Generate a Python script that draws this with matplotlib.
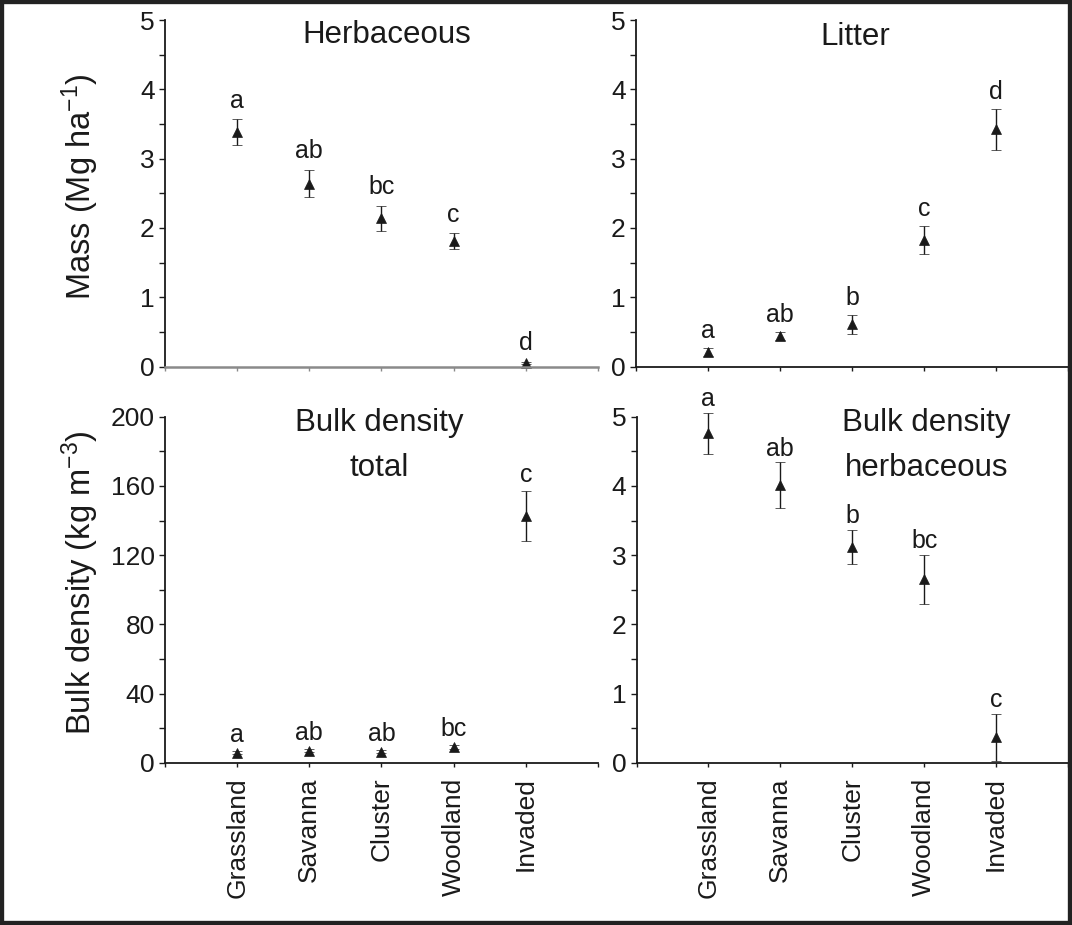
import matplotlib
matplotlib.use('Agg')
import matplotlib.pyplot as plt
from matplotlib.patches import Rectangle
from matplotlib.ticker import MultipleLocator
from matplotlib.transforms import blended_transform_factory
import numpy as np

plt.rcParams['font.family'] = ['Liberation Sans', 'DejaVu Sans']
plt.rcParams['mathtext.default'] = 'regular'

# ---------------- data ----------------
categories = ['Grassland', 'Savanna', 'Cluster', 'Woodland', 'Invaded']

herb_mean = [3.38, 2.64, 2.14, 1.81, 0.05]
herb_err = [0.19, 0.20, 0.18, 0.12, 0.02]
herb_letters = ['a', 'ab', 'bc', 'c', 'd']

litter_mean = [0.21, 0.44, 0.61, 1.83, 3.42]
litter_err = [0.06, 0.06, 0.14, 0.20, 0.30]
litter_letters = ['a', 'ab', 'b', 'c', 'd']

bd_total_mean = [6.0, 7.0, 6.6, 9.2, 142.6]
bd_total_err = [0.8, 0.9, 0.8, 1.0, 14.3]
bd_total_letters = ['a', 'ab', 'ab', 'bc', 'c']

bd_herb_mean = [4.76, 4.01, 3.12, 2.65, 0.37]
bd_herb_err = [0.30, 0.33, 0.24, 0.36, 0.34]
bd_herb_letters = ['a', 'ab', 'b', 'bc', 'c']

ylabel_mass = 'Mass (Mg ha$^{-1}$)'
ylabel_bd = 'Bulk density (kg m$^{-3}$)'

# ---------------- figure ----------------
W, H = 1072, 925
fig = plt.figure(figsize=(W / 100, H / 100), dpi=100)
fig.patch.set_facecolor('white')

def fx(px):
    return px / W

def fy(px):
    return 1 - px / H

ink = '#1a1a1a'

panels = [
    dict(mean=herb_mean, err=herb_err, letters=herb_letters,
         rect=(165, 20, 598, 366.5), ymax=5, major=1, minor=0.5,
         title=['Herbaceous'], tx=3.07, ty=0.933, xcolor='#8a8a8a',
         ylabel=ylabel_mass, xlabels=False, off=8.1),
    dict(mean=litter_mean, err=litter_err, letters=litter_letters,
         rect=(636, 20, 1068, 366.5), ymax=5, major=1, minor=0.5,
         title=['Litter'], tx=3.04, ty=0.928, xcolor=ink,
         ylabel=None, xlabels=False, off=7.2),
    dict(mean=bd_total_mean, err=bd_total_err, letters=bd_total_letters,
         rect=(165, 416.7, 598, 763), ymax=200, major=40, minor=20,
         title=['Bulk density', 'total'], tx=2.97, ty=0.83, xcolor=ink,
         ylabel=ylabel_bd, xlabels=True, off=6.8),
    dict(mean=bd_herb_mean, err=bd_herb_err, letters=bd_herb_letters,
         rect=(636.5, 416.7, 1068, 763), ymax=5, major=1, minor=0.5,
         title=['Bulk density', 'herbaceous'], tx=4.03, ty=0.83, xcolor=ink,
         ylabel=None, xlabels=True, off=4.9),
]

x = np.arange(1, len(categories) + 1)

for p in panels:
    l, t, r, b = p['rect']
    ax = fig.add_axes([fx(l), fy(b), fx(r) - fx(l), fy(t) - fy(b)])
    ax.set_facecolor('none')
    cont = ax.errorbar(x, p['mean'], yerr=p['err'], fmt='^', color=ink,
                       ms=7, mew=0.5, capsize=3.6, elinewidth=1.0,
                       capthick=1.0)
    for art in cont.get_children():
        art.set_clip_on(False)
    ax.set_xlim(0, 6)
    ax.set_ylim(0, p['ymax'])
    for s in ['top', 'right']:
        ax.spines[s].set_visible(False)
    ax.spines['left'].set_color(ink)
    ax.spines['left'].set_linewidth(1.3)
    ax.spines['bottom'].set_color(p['xcolor'])
    ax.spines['bottom'].set_linewidth(1.8 if p['xcolor'] != ink else 1.3)

    ax.yaxis.set_major_locator(MultipleLocator(p['major']))
    ax.yaxis.set_minor_locator(MultipleLocator(p['minor']))
    ax.tick_params(axis='y', which='both', direction='out', length=4.3,
                   width=1.0, pad=3, labelsize=19, colors=ink)
    ax.set_xticks(np.arange(0, 7))
    if p['xlabels']:
        ax.set_xticklabels([''] + categories + [''], rotation=90,
                           ha='center', va='top')
    else:
        ax.set_xticklabels([''] * 7)
    ax.tick_params(axis='x', which='both', direction='out', length=3,
                   width=1.0, pad=7.5, labelsize=19, colors=p['xcolor'],
                   labelcolor=ink)

    if p['ylabel']:
        ax.set_ylabel(p['ylabel'], fontsize=23.5, color=ink)
        ax.yaxis.set_label_coords(-0.1467, 0.52)

    trans = blended_transform_factory(ax.transData, ax.transAxes)
    ax.text(p['tx'], p['ty'], '\n'.join(p['title']), transform=trans,
            ha='center', va='baseline', multialignment='center',
            fontsize=22.5, color=ink, linespacing=1.65)

    for xi, m, e, lab in zip(x, p['mean'], p['err'], p['letters']):
        ax.annotate(lab, xy=(xi, m + e), xytext=(0, p['off']),
                    textcoords='offset points', ha='center',
                    va='baseline', fontsize=18, color=ink,
                    annotation_clip=False)

# outer frame
fig.patches.append(Rectangle((0, 0), 1, 1, transform=fig.transFigure,
                             fill=False, lw=6, ec='#222222', zorder=10))

fig.savefig('out.png', dpi=100)
